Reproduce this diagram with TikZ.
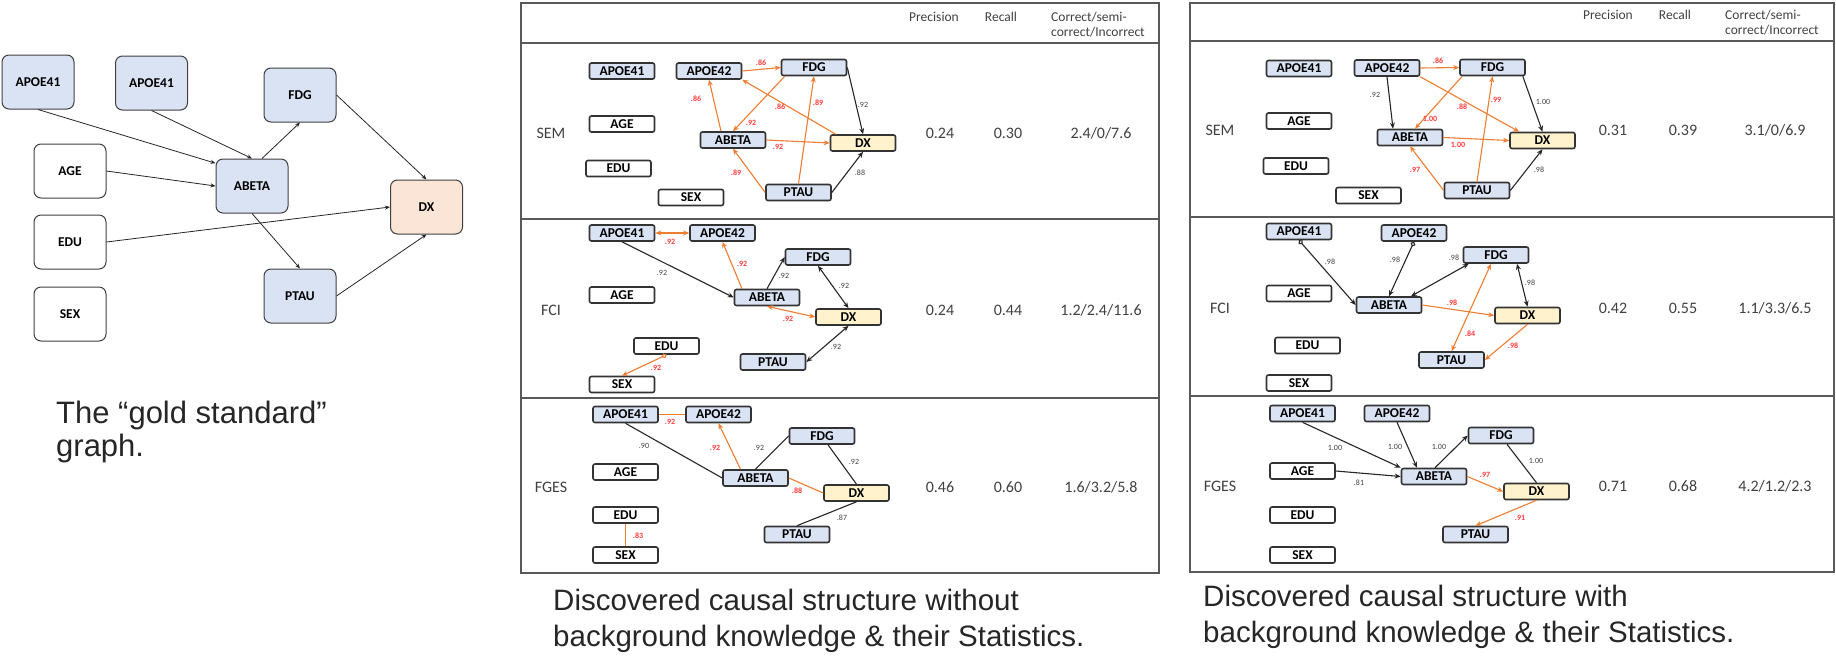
\documentclass[tikz,border=0pt]{standalone}
\usepackage{fontspec}
\setmainfont{Liberation Sans}
\newfontfamily\calfont{Carlito}
\usetikzlibrary{arrows.meta}
\definecolor{varblue}{HTML}{DAE3F3}
\definecolor{dxpeach}{HTML}{FBE5D6}
\definecolor{dxyellow}{HTML}{FFF2CC}
\definecolor{edgeorange}{HTML}{ED7D31}
\definecolor{labelred}{HTML}{FF3B3B}
\definecolor{textgray}{HTML}{404040}
\definecolor{framegray}{HTML}{595959}
\definecolor{nodeedge}{HTML}{333333}

\begin{document}
\begin{tikzpicture}[x=1pt,y=-1pt]
  \tikzset{
    gvar/.style={draw=textgray,line width=1pt,rounded corners=7pt,fill=varblue,
      minimum width=72pt,minimum height=54pt,inner sep=0pt,
      font=\calfont\bfseries\fontsize{13.5}{14}\selectfont},
    var/.style={draw=nodeedge,line width=1.6pt,rounded corners=2pt,fill=varblue,
      minimum width=65pt,minimum height=16pt,inner sep=0pt,
      font=\calfont\bfseries\fontsize{13.5}{14}\selectfont},
    demo/.style={fill=white},
    dxbox/.style={fill=dxyellow},
    garrow/.style={draw=black!85,line width=0.8pt,-{Stealth[length=5pt,width=4pt]}},
    blk/.style={draw=black!85,line width=1.1pt},
    org/.style={draw=edgeorange,line width=1.1pt},
    fwd/.style={-{Stealth[length=6pt,width=5pt]}},
    twoway/.style={{Stealth[length=6pt,width=5pt]}-{Stealth[length=6pt,width=5pt]}},
    circfwd/.style={{Circle[length=5pt,fill=white]}-{Stealth[length=6pt,width=5pt]}},
    redlab/.style={font=\calfont\bfseries\fontsize{8}{8}\selectfont,text=labelred,inner sep=0pt},
    graylab/.style={font=\calfont\fontsize{8}{8}\selectfont,text=textgray,inner sep=0pt},
    stat/.style={font=\calfont\fontsize{16}{18}\selectfont,text=textgray,inner sep=0pt},
    head/.style={font=\calfont\fontsize{13.5}{14}\selectfont,text=textgray,inner sep=0pt},
    frame/.style={draw=framegray,line width=1.5pt},
    capt/.style={font=\fontsize{29.5}{34}\selectfont,text=black!85,inner sep=0pt,anchor=base west},
  }
  \useasboundingbox (0,0) rectangle (1836,670);

  % Gold standard graph.
  \node[gvar] (g41a) at (38,82) {APOE41};
  \node[gvar] (g41b) at (151.5,83) {APOE41};
  \node[gvar] (gFDG) at (300,95) {FDG};
  \node[gvar,demo] (gAGE) at (70,171) {AGE};
  \node[gvar] (gABETA) at (252,186) {ABETA};
  \node[gvar,fill=dxpeach] (gDX) at (426.5,207) {DX};
  \node[gvar,demo] (gEDU) at (70,242) {EDU};
  \node[gvar] (gPTAU) at (300,296) {PTAU};
  \node[gvar,demo] (gSEX) at (70,314) {SEX};
  \draw[garrow] (g41a.south) -- (gABETA.148);
  \draw[garrow] (g41b.south) -- (gABETA.north);
  \draw[garrow] (gAGE.east) -- (gABETA.west);
  \draw[garrow] ([xshift=10]gABETA.north) -- (gFDG.south);
  \draw[garrow] (gFDG.east) -- (gDX.north);
  \draw[garrow] (gEDU.east) -- (gDX.west);
  \draw[garrow] (gABETA.south) -- (gPTAU.north);
  \draw[garrow] (gPTAU.east) -- (gDX.south);
  \node[capt,font=\fontsize{31}{34}\selectfont] (capg1) at (56,423) {The “gold standard”};
  \node[capt,font=\fontsize{31}{34}\selectfont] (capg2) at (56,456) {graph.};

  % (a) Without background knowledge, frame=(521,3)-(1159,573).
  \draw[frame] (521,3) rectangle (1159,573);
  \draw[frame] (521,43) -- (1159,43);
  \draw[frame] (521,219) -- (1159,219);
  \draw[frame] (521,398) -- (1159,398);
  \node[head,anchor=base] (hpa) at (934,21) {Precision};
  \node[head,anchor=base] (hra) at (1001,21) {Recall};
  \node[head,anchor=base west] (hca1) at (1051,21) {Correct/semi-};
  \node[head,anchor=base west] (hca2) at (1051,36) {correct/Incorrect};

  % SEM row.
  \node[stat] (rsa) at (551,133) {SEM};
  \node[var] (sa41) at (622,71) {APOE41};
  \node[var] (sa42) at (709,71) {APOE42};
  \node[var] (saFDG) at (814,67.5) {FDG};
  \node[var,demo] (saAGE) at (622,124) {AGE};
  \node[var] (saABETA) at (733,140) {ABETA};
  \node[var,dxbox] (saDX) at (863,143) {DX};
  \node[var,demo] (saEDU) at (618.5,168.5) {EDU};
  \node[var,demo] (saSEX) at (691,197.5) {SEX};
  \node[var] (saPTAU) at (798.5,192.5) {PTAU};
  \draw[org,fwd] (sa42.east) -- (saFDG.west);
  \draw[org,fwd] ([xshift=-12]saABETA.north) -- (sa42.south);
  \draw[org,fwd] ([xshift=6]saDX.north west) -- (sa42.south east);
  \draw[org,fwd] ([xshift=4]saFDG.south west) -- (saABETA.north);
  \draw[org,fwd] (saPTAU.north) -- (saFDG.south);
  \draw[org,fwd] (saABETA.east) -- (saDX.west);
  \draw[org,fwd] (saPTAU.west) -- (saABETA.south);
  \draw[blk,fwd] (saFDG.east) -- (saDX.north);
  \draw[blk,fwd] (saPTAU.east) -- (saDX.south);
  \foreach \xx/\yy/\t [count=\i] in {761/63/.86,696/99/.86,780/107/.86,751/123/.92,
      818/103/.89,778/147/.92,736/173/.89}
    \node[redlab] (sar\i) at (\xx,\yy) {\t};
  \foreach \xx/\yy/\t [count=\i] in {863/105/.92,860/173/.88}
    \node[graylab] (sag\i) at (\xx,\yy) {\t};
  \node[stat] (psa) at (940,133) {0.24};
  \node[stat] (qsa) at (1008,133) {0.30};
  \node[stat] (csa) at (1101,133) {2.4/0/7.6};

  % FCI row.
  \node[stat] (rfa) at (551,310) {FCI};
  \node[var] (fa41) at (622,233) {APOE41};
  \node[var] (fa42) at (722.5,233) {APOE42};
  \node[var] (faFDG) at (818,257) {FDG};
  \node[var,demo] (faAGE) at (622,295) {AGE};
  \node[var] (faABETA) at (767,297.5) {ABETA};
  \node[var,dxbox] (faDX) at (848.5,317) {DX};
  \node[var,demo] (faEDU) at (666.5,346) {EDU};
  \node[var,demo] (faSEX) at (622,384.5) {SEX};
  \node[var] (faPTAU) at (773,362) {PTAU};
  \draw[org,twoway] (fa41.east) -- (fa42.west);
  \draw[org,fwd] ([xshift=-25]faABETA.north) -- (fa42.south);
  \draw[blk,fwd] (fa41.south) -- (faABETA.west);
  \draw[blk,fwd] (faABETA.north) -- (faFDG.west);
  \draw[blk,twoway] (faFDG.south) -- (faDX.north);
  \draw[org,twoway] (faABETA.south) -- (faDX.west);
  \draw[blk,twoway] (faDX.south) -- (faPTAU.east);
  \draw[org,circfwd] (faEDU.south) -- (faSEX.north);
  \foreach \xx/\yy/\t [count=\i] in {670/242/.92,742/264/.92,788/319/.92,656/368/.92}
    \node[redlab] (far\i) at (\xx,\yy) {\t};
  \foreach \xx/\yy/\t [count=\i] in {662/273/.92,784/276/.92,844/286/.92,836/347/.92}
    \node[graylab] (fag\i) at (\xx,\yy) {\t};
  \node[stat] (pfa) at (940,310) {0.24};
  \node[stat] (qfa) at (1008,310) {0.44};
  \node[stat] (cfa) at (1101,310) {1.2/2.4/11.6};

  % FGES row.
  \node[stat] (rga) at (551,487) {FGES};
  \node[var] (ga41) at (625.5,414.5) {APOE41};
  \node[var] (ga42) at (718.5,414.5) {APOE42};
  \node[var] (gaFDG) at (822,436) {FDG};
  \node[var,demo] (gaAGE) at (625.5,472) {AGE};
  \node[var] (gaABETA) at (755.5,478) {ABETA};
  \node[var,dxbox] (gaDX) at (856.5,493) {DX};
  \node[var,demo] (gaEDU) at (625.5,515) {EDU};
  \node[var,demo] (gaSEX) at (625.5,555) {SEX};
  \node[var] (gaPTAU) at (797,534.5) {PTAU};
  \draw[org] (ga41.east) -- (ga42.west);
  \draw[org,fwd] ([xshift=-15]gaABETA.north) -- (ga42.south);
  \draw[blk] (ga41.south) -- (gaABETA.west);
  \draw[blk] (gaABETA.north) -- (gaFDG.west);
  \draw[blk] ([xshift=6]gaFDG.south) -- (gaDX.north);
  \draw[org] (gaABETA.east) -- (gaDX.west);
  \draw[blk] (gaDX.south) -- (gaPTAU.north);
  \draw[org] (gaEDU.south) -- (gaSEX.north);
  \foreach \xx/\yy/\t [count=\i] in {670/422/.92,715/448/.92,797/491/.88,638/536/.83}
    \node[redlab] (gar\i) at (\xx,\yy) {\t};
  \foreach \xx/\yy/\t [count=\i] in {644/446/.90,759/448/.92,854/462/.92,842/518/.87}
    \node[graylab] (gag\i) at (\xx,\yy) {\t};
  \node[stat] (pga) at (940,487) {0.46};
  \node[stat] (qga) at (1008,487) {0.60};
  \node[stat] (cga) at (1101,487) {1.6/3.2/5.8};
  \node[capt] (capa1) at (553,610) {Discovered causal structure without};
  \node[capt] (capa2) at (553,646) {background knowledge \& their Statistics.};

  % (b) With background knowledge, frame=(1190,3)-(1834,572).
  \draw[frame] (1190,3) rectangle (1834,572);
  \draw[frame] (1190,41) -- (1834,41);
  \draw[frame] (1190,217) -- (1834,217);
  \draw[frame] (1190,396) -- (1834,396);
  \node[head,anchor=base] (hpb) at (1608,19) {Precision};
  \node[head,anchor=base] (hrb) at (1675,19) {Recall};
  \node[head,anchor=base west] (hcb1) at (1725,19) {Correct/semi-};
  \node[head,anchor=base west] (hcb2) at (1725,34) {correct/Incorrect};

  % SEM row.
  \node[stat] (rsb) at (1220,130) {SEM};
  \node[var] (sb41) at (1299,68.5) {APOE41};
  \node[var] (sb42) at (1387,68) {APOE42};
  \node[var] (sbFDG) at (1492.5,67.5) {FDG};
  \node[var,demo] (sbAGE) at (1299,121) {AGE};
  \node[var] (sbABETA) at (1410,137.5) {ABETA};
  \node[var,dxbox] (sbDX) at (1542.5,140.5) {DX};
  \node[var,demo] (sbEDU) at (1296,166) {EDU};
  \node[var,demo] (sbSEX) at (1368.5,195.5) {SEX};
  \node[var] (sbPTAU) at (1477,190.5) {PTAU};
  \draw[org,fwd] (sb42.east) -- (sbFDG.west);
  \draw[blk,fwd] (sb42.south) -- ([xshift=-17]sbABETA.north);
  \draw[org,fwd] (sb42.south east) -- ([xshift=10]sbDX.north west);
  \draw[org,fwd] ([xshift=3]sbFDG.south west) -- ([xshift=5]sbABETA.north);
  \draw[org,fwd] (sbPTAU.north) -- (sbFDG.south);
  \draw[blk,fwd] ([xshift=-3]sbFDG.south east) -- (sbDX.north);
  \draw[org,fwd] (sbABETA.east) -- (sbDX.west);
  \draw[org,fwd] (sbPTAU.west) -- (sbABETA.south);
  \draw[blk,fwd] (sbPTAU.east) -- (sbDX.south);
  \foreach \xx/\yy/\t [count=\i] in {1438/61/.86,1462/107/.88,1430/119/1.00,1496/100/.99,
      1458/145/1.00,1415/170/.97}
    \node[redlab] (sbr\i) at (\xx,\yy) {\t};
  \foreach \xx/\yy/\t [count=\i] in {1375/95/.92,1543/102/1.00,1539/170/.98}
    \node[graylab] (sbg\i) at (\xx,\yy) {\t};
  \node[stat] (psb) at (1613,130) {0.31};
  \node[stat] (qsb) at (1683,130) {0.39};
  \node[stat] (csb) at (1775,130) {3.1/0/6.9};

  % FCI row.
  \node[stat] (rfb) at (1220,308) {FCI};
  \node[var] (fb41) at (1299,231.5) {APOE41};
  \node[var] (fb42) at (1414,233) {APOE42};
  \node[var] (fbFDG) at (1496,255) {FDG};
  \node[var,demo] (fbAGE) at (1299,293.5) {AGE};
  \node[var] (fbABETA) at (1389,305) {ABETA};
  \node[var,dxbox] (fbDX) at (1527.5,315.5) {DX};
  \node[var,demo] (fbEDU) at (1307.5,345.5) {EDU};
  \node[var] (fbPTAU) at (1451.5,360) {PTAU};
  \node[var,demo] (fbSEX) at (1299,383) {SEX};
  \draw[blk,circfwd] (fb41.south) -- (fbABETA.west);
  \draw[blk,circfwd] (fb42.south) -- (fbABETA.north);
  \draw[blk,twoway] ([xshift=22]fbABETA.north) -- ([xshift=6]fbFDG.south west);
  \draw[blk,twoway] ([xshift=21]fbFDG.south) -- (fbDX.north);
  \draw[org,fwd] (fbABETA.east) -- (fbDX.west);
  \draw[org,twoway] ([xshift=-5]fbFDG.south) -- (fbPTAU.north);
  \draw[org,fwd] (fbDX.south) -- (fbPTAU.east);
  \foreach \xx/\yy/\t [count=\i] in {1452/303/.98,1470/334/.84,1513/346/.98}
    \node[redlab] (fbr\i) at (\xx,\yy) {\t};
  \foreach \xx/\yy/\t [count=\i] in {1330/262/.98,1395/260/.98,1454/258/.98,1530/283/.98}
    \node[graylab] (fbg\i) at (\xx,\yy) {\t};
  \node[stat] (pfb) at (1613,308) {0.42};
  \node[stat] (qfb) at (1683,308) {0.55};
  \node[stat] (cfb) at (1775,308) {1.1/3.3/6.5};

  % FGES row.
  \node[stat] (rgb) at (1220,486) {FGES};
  \node[var] (gb41) at (1302.5,413.5) {APOE41};
  \node[var] (gb42) at (1397,413.5) {APOE42};
  \node[var] (gbFDG) at (1501,435.5) {FDG};
  \node[var,demo] (gbAGE) at (1302.5,471) {AGE};
  \node[var] (gbABETA) at (1434,476.5) {ABETA};
  \node[var,dxbox] (gbDX) at (1536.5,491.5) {DX};
  \node[var,demo] (gbEDU) at (1302.5,515) {EDU};
  \node[var] (gbPTAU) at (1475.5,534.5) {PTAU};
  \node[var,demo] (gbSEX) at (1302.5,555) {SEX};
  \draw[blk,fwd] (gb41.south) -- (gbABETA.north west);
  \draw[blk,fwd] (gb42.south) -- ([xshift=-17]gbABETA.north);
  \draw[blk,fwd] ([xshift=1]gbABETA.north) -- (gbFDG.west);
  \draw[blk] ([xshift=6]gbFDG.south) -- (gbDX.north);
  \draw[blk,fwd] (gbAGE.east) -- (gbABETA.west);
  \draw[org,fwd] (gbABETA.east) -- (gbDX.west);
  \draw[org,fwd] (gbDX.south) -- (gbPTAU.north);
  \foreach \xx/\yy/\t [count=\i] in {1485/475/.97,1520/518/.91}
    \node[redlab] (gbr\i) at (\xx,\yy) {\t};
  \foreach \xx/\yy/\t [count=\i] in {1335/448/1.00,1395/447/1.00,1439/447/1.00,
      1536/461/1.00,1359/483/.81}
    \node[graylab] (gbg\i) at (\xx,\yy) {\t};
  \node[stat] (pgb) at (1613,486) {0.71};
  \node[stat] (qgb) at (1683,486) {0.68};
  \node[stat] (cgb) at (1775,486) {4.2/1.2/2.3};
  \node[capt] (capb1) at (1203,606) {Discovered causal structure with};
  \node[capt] (capb2) at (1203,642) {background knowledge \& their Statistics.};
\end{tikzpicture}
\end{document}
